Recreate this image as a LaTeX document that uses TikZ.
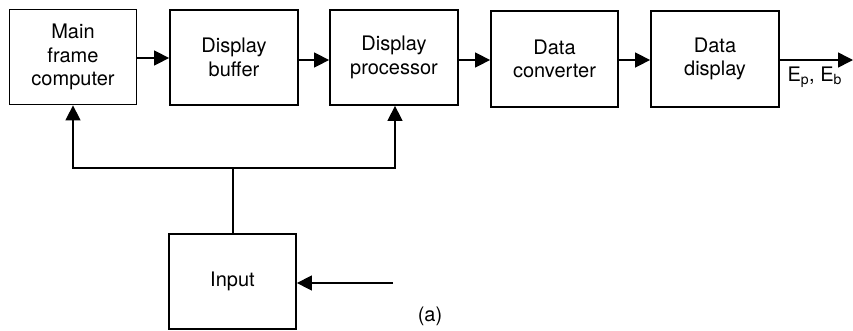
\documentclass[tikz,border=0pt]{standalone}
\usepackage{fontspec}
\setmainfont{TeX Gyre Heros}
\usetikzlibrary{arrows.meta}
\begin{document}
\begin{tikzpicture}[x=1pt,y=-1pt,
  blk/.style={draw,line width=1.8pt,inner sep=0pt,align=center,font=\fontsize{20}{23.5}\selectfont},
  arr/.style={line width=1.5pt,-{Triangle[length=15pt,width=15pt]}},
  ln/.style={line width=1.5pt}]
\useasboundingbox (0,0) rectangle (853,330);
\node[blk,minimum width=127pt,minimum height=95pt] (mf) at (73,57) {Main\\frame\\computer};
\node[blk,minimum width=128pt,minimum height=95pt] (db) at (234,57.5) {Display\\buffer};
\node[blk,minimum width=128pt,minimum height=95pt] (dp) at (394,57.5) {Display\\processor};
\node[blk,minimum width=127pt,minimum height=96pt] (dc) at (554.5,59) {Data\\converter};
\node[blk,minimum width=128pt,minimum height=96pt] (dd) at (715,59) {Data\\display};
\node[blk,minimum width=127pt,minimum height=95pt] (in) at (232.5,281.5) {Input};
\coordinate (out) at (853,60);
\coordinate (src) at (393,283);
\coordinate (jn) at (233,168);
\coordinate (jl) at (73,168);
\coordinate (jr) at (395,168);
\draw[arr] (mf.east |- 0,58) -- (db.west |- 0,58);
\draw[arr] (db.east |- 0,60) -- (dp.west |- 0,60);
\draw[arr] (dp.east |- 0,60) -- (dc.west |- 0,60);
\draw[arr] (dc.east |- 0,60) -- (dd.west |- 0,60);
\draw[arr] (dd.east |- out) -- (out);
\draw[arr] (src) -- (in.east |- src);
\draw[ln] (in.north -| jn) -- (jn);
\draw[arr] (jn) -- (jl) -- (mf.south -| jl);
\draw[arr] (jn) -- (jr) -- (dp.south -| jr);
\node[font=\fontsize{20}{23}\selectfont,anchor=west] (lbl) at (784,77) {E\textsubscript{p}, E\textsubscript{b}};
\node[font=\fontsize{20}{23}\selectfont] (cap) at (430,316) {(a)};
\end{tikzpicture}
\end{document}
